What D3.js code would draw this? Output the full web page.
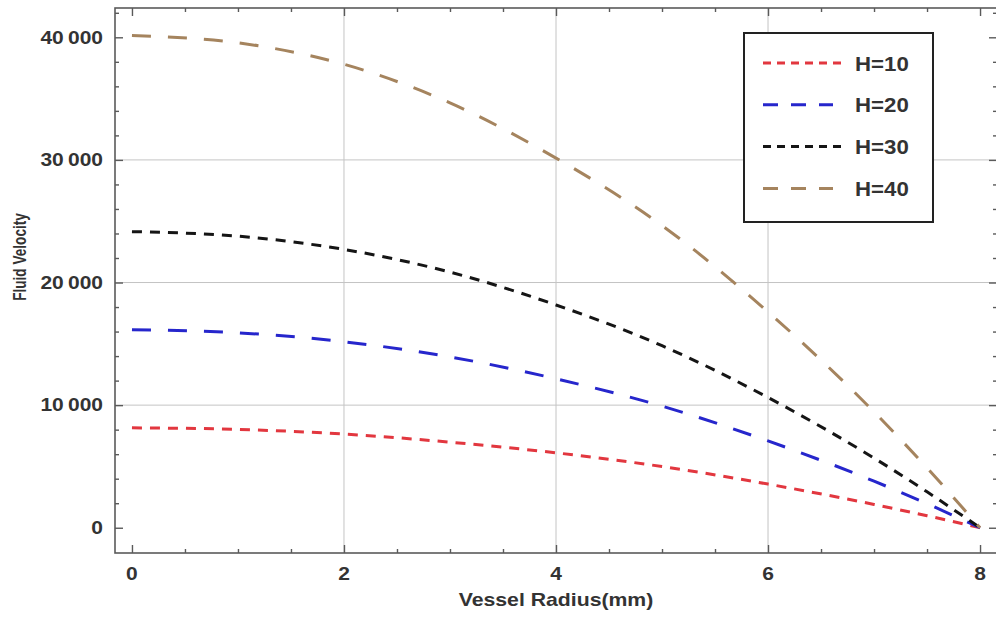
<!DOCTYPE html>
<html>
<head>
<meta charset="utf-8">
<script src="https://cdn.jsdelivr.net/npm/d3@7/dist/d3.min.js"></script>
<style>
  html, body { margin: 0; padding: 0; background: #fff; }
  svg { display: block; }
  text { font-family: "Liberation Sans", Arial, sans-serif; font-weight: bold; fill: #333; }
</style>
</head>
<body>
<svg id="chart" width="996" height="623"></svg>
<script>
// values
const radius = [0, 1, 2, 3, 4, 5, 6, 7, 7.5, 8];
const velH10 = [8150, 8020, 7640, 6980, 6110, 4990, 3560, 1900, 980, 0];
const velH20 = [16150, 15900, 15170, 13930, 12150, 9920, 7080, 3800, 1960, 0];
const velH30 = [24150, 23780, 22700, 20850, 18170, 14850, 10620, 5680, 2930, 0];
const velH40 = [40150, 39550, 37800, 34650, 30150, 24650, 17600, 9450, 4880, 0];
const seriesNames = ["H=10", "H=20", "H=30", "H=40"];

const xMajor = [0, 2, 4, 6, 8];
const xGrid = [2, 4, 6];
const yMajor = [0, 10000, 20000, 30000, 40000];
const yMajorLabels = ["0", "10\u2009000", "20\u2009000", "30\u2009000", "40\u2009000"];
const yGrid = [10000, 20000, 30000];

const series = [
  { name: seriesNames[0], values: velH10, color: "#e2373f", dash: "10,8", legendDash: "8,6", legendLen: 79 },
  { name: seriesNames[1], values: velH20, color: "#2626cc", dash: "19,17", legendDash: "15,13", legendLen: 70 },
  { name: seriesNames[2], values: velH30, color: "#151515", dash: "10,8", legendDash: "8,6", legendLen: 79 },
  { name: seriesNames[3], values: velH40, color: "#a5845e", dash: "19,17", legendDash: "15,13", legendLen: 70 },
];

const frame = { left: 115, top: 8, right: 997, bottom: 553 };
const svg = d3.select("#chart");

const x = d3.scaleLinear().domain([-0.16, 8.16]).range([frame.left, frame.right]);
const y = d3.scaleLinear().domain([-2060, 42390]).range([frame.bottom, frame.top]);

// grid
const grid = svg.append("g").attr("stroke", "#c4c4c4").attr("stroke-width", 1);
grid.selectAll("line.gx").data(xGrid).join("line").attr("class", "gx")
  .attr("x1", (d) => x(d)).attr("x2", (d) => x(d))
  .attr("y1", frame.top).attr("y2", frame.bottom);
grid.selectAll("line.gy").data(yGrid).join("line").attr("class", "gy")
  .attr("y1", (d) => y(d)).attr("y2", (d) => y(d))
  .attr("x1", frame.left).attr("x2", frame.right);

// inward ticks on all four sides
const xMinor = d3.range(0, 8.01, 0.5).filter((d) => !xMajor.includes(d));
const yMinor = d3.range(0, 42001, 2000).filter((d) => !yMajor.includes(d));

function tickAxis(axisFn, scale, values, size, transform) {
  const g = svg.append("g").attr("transform", transform)
    .call(axisFn(scale).tickValues(values).tickSize(-size).tickFormat(""));
  g.select(".domain").remove();
  g.selectAll(".tick line").attr("stroke", "#5a5a5a").attr("stroke-width", 1.4);
}
tickAxis(d3.axisBottom, x, xMajor, 8, `translate(0,${frame.bottom})`);
tickAxis(d3.axisBottom, x, xMinor, 4, `translate(0,${frame.bottom})`);
tickAxis(d3.axisTop, x, xMajor, 8, `translate(0,${frame.top})`);
tickAxis(d3.axisTop, x, xMinor, 4, `translate(0,${frame.top})`);
tickAxis(d3.axisLeft, y, yMajor, 8, `translate(${frame.left},0)`);
tickAxis(d3.axisLeft, y, yMinor, 4, `translate(${frame.left},0)`);
tickAxis(d3.axisRight, y, yMajor, 8, `translate(${frame.right},0)`);
tickAxis(d3.axisRight, y, yMinor, 4, `translate(${frame.right},0)`);

// frame
svg.append("rect")
  .attr("x", frame.left).attr("y", frame.top)
  .attr("width", frame.right - frame.left).attr("height", frame.bottom - frame.top)
  .attr("fill", "none").attr("stroke", "#5a5a5a").attr("stroke-width", 1.6);

// curves
const line = d3.line()
  .x((d) => x(d[0]))
  .y((d) => y(d[1]))
  .curve(d3.curveMonotoneX);

svg.append("g").selectAll("path").data(series).join("path")
  .attr("fill", "none")
  .attr("stroke", (s) => s.color)
  .attr("stroke-width", 3)
  .attr("stroke-dasharray", (s) => s.dash)
  .attr("d", (s) => line(radius.map((r, i) => [r, s.values[i]])));

// tick labels
svg.append("g").selectAll("text").data(yMajor).join("text")
  .attr("transform", (d) => `translate(103,${y(d)}) scale(1.2,1)`)
  .attr("text-anchor", "end").attr("dy", "0.36em")
  .attr("font-size", 17.5)
  .text((d, i) => yMajorLabels[i]);

svg.append("g").selectAll("text").data(xMajor).join("text")
  .attr("transform", (d) => `translate(${x(d)},580) scale(1.2,1)`)
  .attr("text-anchor", "middle")
  .attr("font-size", 17.5)
  .text((d) => d);

// axis titles
svg.append("text")
  .attr("transform", `translate(${(frame.left + frame.right) / 2},606) scale(1.18,1)`)
  .attr("text-anchor", "middle").attr("font-size", 18)
  .text("Vessel Radius(mm)");

svg.append("text")
  .attr("transform", "translate(20,257) scale(1.35,1) rotate(-90)")
  .attr("text-anchor", "middle").attr("dy", "0.35em").attr("font-size", 13.6)
  .text("Fluid Velocity");

// legend
const legend = svg.append("g");
legend.append("rect")
  .attr("x", 744).attr("y", 33).attr("width", 189).attr("height", 189)
  .attr("fill", "#fff").attr("stroke", "#222").attr("stroke-width", 2);

const rows = legend.selectAll("g.row").data(series).join("g").attr("class", "row")
  .attr("transform", (s, i) => `translate(763,${63 + i * 41.8})`);
rows.append("line")
  .attr("x1", 0).attr("x2", (s) => s.legendLen)
  .attr("stroke", (s) => s.color).attr("stroke-width", 3)
  .attr("stroke-dasharray", (s) => s.legendDash);
rows.append("text")
  .attr("transform", "translate(92,0) scale(1.06,1)")
  .attr("dy", "0.36em").attr("font-size", 21)
  .attr("fill", "#222")
  .text((s) => s.name);
</script>
</body>
</html>
